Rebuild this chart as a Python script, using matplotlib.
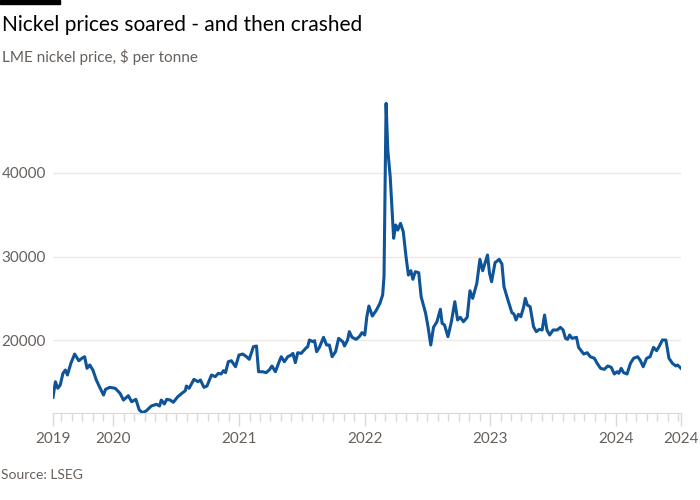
import matplotlib
matplotlib.use("Agg")
import matplotlib.pyplot as plt
import matplotlib.dates as mdates
import pandas as pd

# LME nickel price, $ per tonne
dates = [
    "2019-07-09", "2019-07-16", "2019-07-23", "2019-07-30", "2019-08-07", "2019-08-14",
    "2019-08-20", "2019-08-30", "2019-09-10", "2019-09-22", "2019-10-01", "2019-10-09",
    "2019-10-16", "2019-10-24", "2019-11-02", "2019-11-12", "2019-11-22", "2019-12-03",
    "2019-12-09", "2019-12-21", "2020-01-06", "2020-01-20", "2020-01-30", "2020-02-13",
    "2020-02-23", "2020-03-06", "2020-03-16", "2020-03-26", "2020-04-06", "2020-04-20",
    "2020-05-05", "2020-05-14", "2020-05-19", "2020-05-28", "2020-06-04", "2020-06-14",
    "2020-06-23", "2020-07-06", "2020-07-20", "2020-07-28", "2020-07-31", "2020-08-08",
    "2020-08-22", "2020-09-03", "2020-09-10", "2020-09-20", "2020-09-29", "2020-10-12",
    "2020-10-23", "2020-11-01", "2020-11-09", "2020-11-16", "2020-11-22", "2020-11-30",
    "2020-12-09", "2020-12-21", "2020-12-31", "2021-01-11", "2021-01-22", "2021-01-30",
    "2021-02-11", "2021-02-20", "2021-02-26", "2021-03-10", "2021-03-20", "2021-03-29",
    "2021-04-06", "2021-04-16", "2021-04-28", "2021-05-03", "2021-05-12", "2021-05-22",
    "2021-06-01", "2021-06-06", "2021-06-13", "2021-06-20", "2021-06-30", "2021-07-13",
    "2021-07-19", "2021-07-24", "2021-08-03", "2021-08-08", "2021-08-14", "2021-08-22",
    "2021-09-03", "2021-09-12", "2021-09-20", "2021-09-28", "2021-10-08", "2021-10-17",
    "2021-10-29", "2021-11-03", "2021-11-12", "2021-11-17", "2021-11-25", "2021-12-07",
    "2021-12-16", "2021-12-24", "2022-01-01", "2022-01-07", "2022-01-13", "2022-01-23",
    "2022-02-04", "2022-02-14", "2022-02-22", "2022-02-26", "2022-03-04", "2022-03-09",
    "2022-03-16", "2022-03-22", "2022-03-26", "2022-04-01", "2022-04-07", "2022-04-15",
    "2022-04-23", "2022-05-01", "2022-05-08", "2022-05-15", "2022-05-21", "2022-05-28",
    "2022-06-07", "2022-06-14", "2022-06-27", "2022-07-04", "2022-07-12", "2022-07-20",
    "2022-07-30", "2022-08-09", "2022-08-14", "2022-08-21", "2022-08-31", "2022-09-10",
    "2022-09-20", "2022-09-28", "2022-10-06", "2022-10-15", "2022-10-26", "2022-11-03",
    "2022-11-11", "2022-11-23", "2022-12-02", "2022-12-10", "2022-12-24", "2022-12-30",
    "2023-01-05", "2023-01-15", "2023-01-27", "2023-02-04", "2023-02-10", "2023-02-20",
    "2023-03-05", "2023-03-11", "2023-03-17", "2023-03-24", "2023-03-31", "2023-04-08",
    "2023-04-13", "2023-04-19", "2023-04-27", "2023-05-07", "2023-05-15", "2023-05-24",
    "2023-06-01", "2023-06-08", "2023-06-15", "2023-06-23", "2023-07-03", "2023-07-15",
    "2023-07-24", "2023-08-01", "2023-08-08", "2023-08-14", "2023-08-20", "2023-08-27",
    "2023-09-09", "2023-09-15", "2023-09-30", "2023-10-10", "2023-10-19", "2023-10-31",
    "2023-11-08", "2023-11-18", "2023-11-29", "2023-12-09", "2023-12-19", "2023-12-28",
    "2024-01-05", "2024-01-10", "2024-01-17", "2024-01-24", "2024-02-03", "2024-02-13",
    "2024-02-22", "2024-03-05", "2024-03-13", "2024-03-21", "2024-03-31", "2024-04-10",
    "2024-04-20", "2024-04-29", "2024-05-06", "2024-05-16", "2024-05-26", "2024-06-04",
    "2024-06-14", "2024-06-24", "2024-06-29", "2024-07-09",
]
price = [
    13140, 15000, 14220, 14610, 16010, 16410,
    15810, 17210, 18320, 17520, 17810, 18000,
    16610, 17010, 16410, 15210, 14330, 13410,
    14100, 14330, 14220, 13620, 12810, 13330,
    12610, 12900, 11620, 11300, 11540, 12100,
    12300, 12100, 12810, 12340, 12900, 12810,
    12540, 13210, 13690, 13930, 14490, 14220,
    15290, 15010, 15210, 14330, 14490, 15810,
    15610, 16010, 15930, 16330, 16090, 17400,
    17520, 16800, 18200, 18320, 18000, 17690,
    19200, 19280, 16200, 16200, 16090, 16410,
    16890, 16200, 17520, 18000, 17400, 18000,
    18200, 18400, 17290, 18480, 18400, 19000,
    19200, 20000, 19800, 19920, 18600, 19120,
    20320, 19400, 19400, 18000, 18600, 20200,
    19800, 19280, 20000, 21000, 20320, 20080,
    20400, 20880, 20600, 22790, 24070, 22870,
    23590, 24390, 25390, 27580, 48340, 42750,
    39560, 35170, 32180, 33770, 33170, 33970,
    32970, 29980, 27780, 28300, 27270, 28180,
    28060, 25190, 23200, 21600, 19400, 21520,
    22190, 23680, 22000, 21800, 20400, 22190,
    24590, 22400, 22720, 22190, 22720, 25900,
    24990, 26790, 29660, 28300, 30180, 27990,
    26980, 29260, 29660, 29100, 26390, 24990,
    23270, 23110, 22400, 23080, 22790, 23910,
    24990, 24190, 23990, 21600, 21000, 21280,
    21200, 22990, 21200, 20600, 21200, 21200,
    21520, 21200, 20200, 20080, 20600, 20200,
    20320, 19120, 18320, 18480, 18000, 17810,
    17210, 16610, 16490, 16890, 16730, 15930,
    16200, 16010, 16610, 16090, 15930, 17210,
    17810, 18000, 17520, 16800, 17810, 18000,
    19120, 18720, 19200, 20000, 20000, 17810,
    17210, 16890, 17010, 16610,
]
y_ticks = [20000, 30000, 40000]
x_tick_labels = ["2019", "2020", "2021", "2022", "2023", "2024", "2024"]

LINE = "#0f5499"
TEXT = "#66605c"
GRID = "#ece8e4"
TICK = "#ddd8d2"

plt.rcParams["font.family"] = ["Lato", "DejaVu Sans"]

d = pd.to_datetime(dates)
fig = plt.figure(figsize=(7, 5), dpi=100)
ax = fig.add_axes([53 / 700, 1 - 413 / 500, (681 - 53) / 700, (413 - 100) / 500])

ax.plot(d, price, color=LINE, lw=2.2, solid_joinstyle="round", zorder=3)

ax.set_xlim(d[0], d[-1])
ax.set_ylim(11260, 48740)

# x axis: year ticks plus both ends, monthly minor ticks
major = [d[0]] + [pd.Timestamp(f"{y}-01-01") for y in range(2020, 2025)] + [d[-1]]
ax.set_xticks(major)
ax.set_xticklabels(x_tick_labels)
ax.xaxis.set_minor_locator(mdates.MonthLocator())
ax.tick_params(axis="x", which="major", length=9, width=1, color=TICK,
               labelsize=11, labelcolor=TEXT, pad=5)
ax.tick_params(axis="x", which="minor", length=6, width=1, color=TICK)

ax.set_yticks(y_ticks)
ax.set_yticklabels([str(v) for v in y_ticks])
ax.tick_params(axis="y", length=0, labelsize=11, labelcolor=TEXT, pad=5)
ax.grid(axis="y", color=GRID, lw=1)
ax.set_axisbelow(True)

for s in ["top", "right", "left"]:
    ax.spines[s].set_visible(False)
ax.spines["bottom"].set_color(TICK)

# header and footer
fig.patches.append(plt.Rectangle((0, 1 - 4 / 500), 60 / 700, 4 / 500,
                                 transform=fig.transFigure, color="black"))
fig.text(2 / 700, 1 - 25 / 500, "Nickel prices soared - and then crashed",
         fontsize=15, color="#000000", va="center")
fig.text(2 / 700, 1 - 57 / 500, "LME nickel price, $ per tonne",
         fontsize=11, color=TEXT, va="center")
fig.text(1 / 700, 1 - 475 / 500, "Source: LSEG", fontsize=10, color=TEXT, va="center")

fig.savefig("out.png", dpi=100, facecolor="white")
